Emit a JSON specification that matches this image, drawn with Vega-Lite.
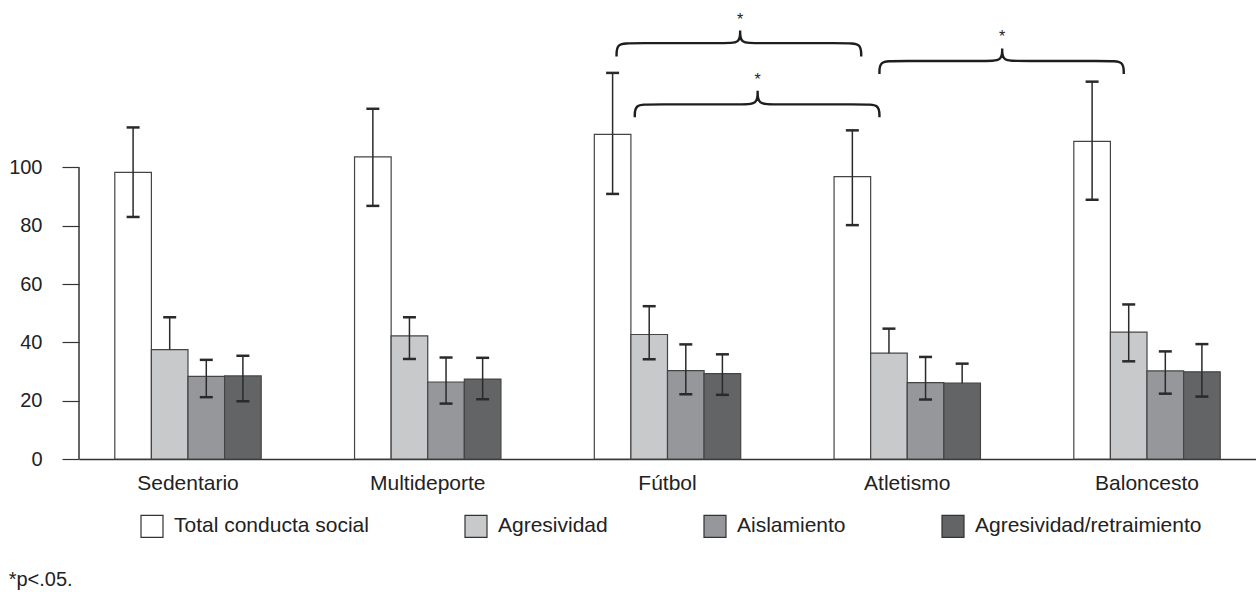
{
  "$schema": "https://vega.github.io/schema/vega-lite/v6.json",
  "width": 1177,
  "height": 452,
  "autosize": {"type": "none"},
  "padding": {"left": 79, "top": 7, "right": 0, "bottom": 133},
  "background": "white",
  "title": {
    "text": "*p<.05.",
    "orient": "bottom",
    "anchor": "start",
    "frame": "bounds",
    "fontSize": 20,
    "fontWeight": "normal",
    "color": "#222222",
    "offset": 30
  },
  "config": {
    "view": {"stroke": null},
    "font": "Liberation Sans",
    "axisX": {
      "title": null,
      "labelAngle": 0,
      "labelFontSize": 21,
      "labelColor": "#222222",
      "labelPadding": 13,
      "ticks": false,
      "tickSize": 0,
      "domainColor": "#333333",
      "domainWidth": 1.5,
      "grid": false
    },
    "axisY": {
      "title": null,
      "labelFontSize": 20,
      "labelColor": "#222222",
      "labelPadding": 20,
      "tickSize": 17,
      "tickColor": "#333333",
      "tickWidth": 1.2,
      "domain": false,
      "grid": false
    }
  },
  "datasets": {
    "bars": [
      {"group": "Sedentario", "series": "Total conducta social", "value": 98.3, "lo": 83.0, "hi": 113.7},
      {"group": "Sedentario", "series": "Agresividad", "value": 37.5, "lo": null, "hi": 48.6},
      {"group": "Sedentario", "series": "Aislamiento", "value": 28.3, "lo": 21.2, "hi": 34.0},
      {"group": "Sedentario", "series": "Agresividad/retraimiento", "value": 28.5, "lo": 19.8, "hi": 35.4},
      {"group": "Multideporte", "series": "Total conducta social", "value": 103.6, "lo": 86.8, "hi": 120.1},
      {"group": "Multideporte", "series": "Agresividad", "value": 42.2, "lo": 34.3, "hi": 48.6},
      {"group": "Multideporte", "series": "Aislamiento", "value": 26.4, "lo": 19.0, "hi": 34.8},
      {"group": "Multideporte", "series": "Agresividad/retraimiento", "value": 27.4, "lo": 20.5, "hi": 34.7},
      {"group": "Fútbol", "series": "Total conducta social", "value": 111.3, "lo": 90.9, "hi": 132.4},
      {"group": "Fútbol", "series": "Agresividad", "value": 42.7, "lo": 34.2, "hi": 52.4},
      {"group": "Fútbol", "series": "Aislamiento", "value": 30.3, "lo": 22.2, "hi": 39.3},
      {"group": "Fútbol", "series": "Agresividad/retraimiento", "value": 29.3, "lo": 22.0, "hi": 35.9},
      {"group": "Atletismo", "series": "Total conducta social", "value": 96.8, "lo": 80.2, "hi": 112.7},
      {"group": "Atletismo", "series": "Agresividad", "value": 36.3, "lo": null, "hi": 44.7},
      {"group": "Atletismo", "series": "Aislamiento", "value": 26.2, "lo": 20.4, "hi": 35.0},
      {"group": "Atletismo", "series": "Agresividad/retraimiento", "value": 26.0, "lo": null, "hi": 32.7},
      {"group": "Baloncesto", "series": "Total conducta social", "value": 108.9, "lo": 88.9, "hi": 129.4},
      {"group": "Baloncesto", "series": "Agresividad", "value": 43.5, "lo": 33.5, "hi": 53.0},
      {"group": "Baloncesto", "series": "Aislamiento", "value": 30.2, "lo": 22.4, "hi": 36.9},
      {"group": "Baloncesto", "series": "Agresividad/retraimiento", "value": 29.9, "lo": 21.4, "hi": 39.4}
    ],
    "braces": [
      {"brace": "A", "seq": 1, "x": 1.7875, "y": 138.0},
      {"brace": "A", "seq": 2, "x": 1.7875, "y": 142.6},
      {"brace": "A", "seq": 3, "x": 1.8525, "y": 142.6},
      {"brace": "A", "seq": 4, "x": 2.238, "y": 142.6},
      {"brace": "A", "seq": 5, "x": 2.303, "y": 142.6},
      {"brace": "A", "seq": 6, "x": 2.303, "y": 146.9},
      {"brace": "A", "seq": 7, "x": 2.303, "y": 146.9},
      {"brace": "A", "seq": 8, "x": 2.303, "y": 146.9},
      {"brace": "A", "seq": 9, "x": 2.303, "y": 142.6},
      {"brace": "A", "seq": 10, "x": 2.368, "y": 142.6},
      {"brace": "A", "seq": 11, "x": 2.743, "y": 142.6},
      {"brace": "A", "seq": 12, "x": 2.808, "y": 142.6},
      {"brace": "A", "seq": 13, "x": 2.808, "y": 138.0},
      {"brace": "B", "seq": 1, "x": 1.8635, "y": 117.2},
      {"brace": "B", "seq": 2, "x": 1.8635, "y": 121.6},
      {"brace": "B", "seq": 3, "x": 1.9285, "y": 121.6},
      {"brace": "B", "seq": 4, "x": 2.311, "y": 121.6},
      {"brace": "B", "seq": 5, "x": 2.376, "y": 121.6},
      {"brace": "B", "seq": 6, "x": 2.376, "y": 126.3},
      {"brace": "B", "seq": 7, "x": 2.376, "y": 126.3},
      {"brace": "B", "seq": 8, "x": 2.376, "y": 126.3},
      {"brace": "B", "seq": 9, "x": 2.376, "y": 121.6},
      {"brace": "B", "seq": 10, "x": 2.441, "y": 121.6},
      {"brace": "B", "seq": 11, "x": 2.819, "y": 121.6},
      {"brace": "B", "seq": 12, "x": 2.884, "y": 121.6},
      {"brace": "B", "seq": 13, "x": 2.884, "y": 117.2},
      {"brace": "C", "seq": 1, "x": 2.884, "y": 132.0},
      {"brace": "C", "seq": 2, "x": 2.884, "y": 136.5},
      {"brace": "C", "seq": 3, "x": 2.949, "y": 136.5},
      {"brace": "C", "seq": 4, "x": 3.331, "y": 136.5},
      {"brace": "C", "seq": 5, "x": 3.396, "y": 136.5},
      {"brace": "C", "seq": 6, "x": 3.396, "y": 140.8},
      {"brace": "C", "seq": 7, "x": 3.396, "y": 140.8},
      {"brace": "C", "seq": 8, "x": 3.396, "y": 140.8},
      {"brace": "C", "seq": 9, "x": 3.396, "y": 136.5},
      {"brace": "C", "seq": 10, "x": 3.461, "y": 136.5},
      {"brace": "C", "seq": 11, "x": 3.838, "y": 136.5},
      {"brace": "C", "seq": 12, "x": 3.903, "y": 136.5},
      {"brace": "C", "seq": 13, "x": 3.903, "y": 132.0}
    ],
    "stars": [
      {"x": 2.303, "y": 152.0},
      {"x": 2.376, "y": 131.2},
      {"x": 3.396, "y": 146.0}
    ]
  },
  "layer": [
    {
      "data": {"name": "bars"},
      "encoding": {
        "x": {
          "field": "group",
          "type": "nominal",
          "sort": ["Sedentario", "Multideporte", "Fútbol", "Atletismo", "Baloncesto"],
          "scale": {"paddingInner": 0.3894, "paddingOuter": 0.1493}
        },
        "xOffset": {
          "field": "series",
          "type": "nominal",
          "sort": ["Total conducta social", "Agresividad", "Aislamiento", "Agresividad/retraimiento"],
          "scale": {"paddingInner": 0, "paddingOuter": 0}
        }
      },
      "layer": [
        {
          "mark": {"type": "bar", "stroke": "#444444", "strokeWidth": 1.2},
          "encoding": {
            "y": {
              "field": "value",
              "type": "quantitative",
              "scale": {"domain": [0, 155], "nice": false},
              "axis": {"values": [0, 20, 40, 60, 80, 100], "title": null}
            },
            "color": {
              "field": "series",
              "type": "nominal",
              "sort": ["Total conducta social", "Agresividad", "Aislamiento", "Agresividad/retraimiento"],
              "scale": {
                "domain": ["Total conducta social", "Agresividad", "Aislamiento", "Agresividad/retraimiento"],
                "range": ["#ffffff", "#c8c9cb", "#96979b", "#636466"]
              },
              "legend": {
                "orient": "none",
                "legendX": 61,
                "legendY": 507,
                "direction": "horizontal",
                "title": null,
                "symbolType": "square",
                "symbolSize": 484,
                "symbolStrokeColor": "#333333",
                "symbolStrokeWidth": 1.2,
                "symbolOpacity": 1,
                "labelFontSize": 21,
                "labelColor": "#222222",
                "labelOffset": 10,
                "labelLimit": 400,
                "columnPadding": 93,
                "padding": 0
              }
            }
          }
        },
        {
          "mark": {"type": "rule", "color": "#2a2a2a", "strokeWidth": 1.5},
          "encoding": {
            "y": {"field": "value", "type": "quantitative", "title": null},
            "y2": {"field": "hi"}
          }
        },
        {
          "mark": {"type": "rule", "color": "#2a2a2a", "strokeWidth": 1.5},
          "encoding": {
            "y": {"field": "lo", "type": "quantitative", "title": null},
            "y2": {"field": "value"}
          }
        },
        {
          "mark": {"type": "tick", "orient": "horizontal", "size": 13, "thickness": 2.5, "color": "#2a2a2a", "opacity": 1},
          "encoding": {
            "y": {"field": "hi", "type": "quantitative", "title": null}
          }
        },
        {
          "mark": {"type": "tick", "orient": "horizontal", "size": 13, "thickness": 2.5, "color": "#2a2a2a", "opacity": 1},
          "encoding": {
            "y": {"field": "lo", "type": "quantitative", "title": null}
          }
        }
      ]
    },
    {
      "data": {"name": "braces"},
      "mark": {"type": "line", "interpolate": "basis", "color": "#1e1e1e", "strokeWidth": 2.4},
      "encoding": {
        "x": {
          "field": "x",
          "type": "quantitative",
          "scale": {"domain": [-0.4546, 4.4546], "nice": false, "zero": false},
          "axis": null
        },
        "y": {"field": "y", "type": "quantitative", "title": null},
        "detail": {"field": "brace"},
        "order": {"field": "seq"}
      }
    },
    {
      "data": {"name": "stars"},
      "mark": {"type": "text", "text": "*", "fontSize": 16, "baseline": "middle", "dy": 4, "color": "#222222"},
      "encoding": {
        "x": {
          "field": "x",
          "type": "quantitative",
          "scale": {"domain": [-0.4546, 4.4546], "nice": false, "zero": false},
          "axis": null
        },
        "y": {"field": "y", "type": "quantitative", "title": null}
      }
    },
    {
      "data": {"values": [{}]},
      "mark": {"type": "rule", "color": "#333333", "strokeWidth": 1.5},
      "encoding": {
        "x": {"value": 0},
        "y": {"datum": 0},
        "y2": {"datum": 100}
      }
    }
  ],
  "resolve": {"scale": {"x": "independent"}}
}
